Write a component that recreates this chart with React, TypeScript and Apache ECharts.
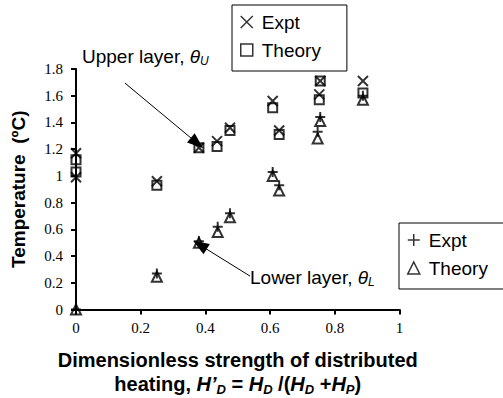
import React, { useEffect, useRef } from 'react';
import * as echarts from 'echarts';

// Upper layer (theta_U)
const xUpper = [0, 0, 0.25, 0.38, 0.436, 0.476, 0.608, 0.628, 0.752, 0.755, 0.887];
const upperExpt = [1.17, 0.99, 0.96, 1.21, 1.26, 1.36, 1.56, 1.34, 1.61, 1.71, 1.71];
const upperTheory = [1.12, 1.03, 0.93, 1.21, 1.22, 1.34, 1.51, 1.31, 1.57, 1.71, 1.62];

// Lower layer (theta_L)
const xLower = [0, 0.25, 0.38, 0.438, 0.476, 0.608, 0.628, 0.747, 0.755, 0.887];
const lowerExpt = [0, 0.27, 0.51, 0.62, 0.72, 1.03, 0.93, 1.33, 1.44, 1.6];
const lowerTheory = [0, 0.245, 0.5, 0.58, 0.69, 1.0, 0.89, 1.28, 1.41, 1.57];

// Annotation arrows (data coordinates: tail -> head)
const upperArrow = [[0.151, 1.695], [0.374, 1.246]];
const lowerArrow = [[0.538, 0.25], [0.383, 0.483]];

const CROSS = 'path://M0,0L10,10M10,0L0,10';
const PLUS = 'path://M5,0L5,10M0,5L10,5';
const SANS = 'Liberation Sans';
const SERIF = 'Liberation Serif';

const zip = (xs: number[], ys: number[]) => xs.map((x, i) => [x, ys[i]]);

export default function App() {
  const ref = useRef<HTMLDivElement>(null);
  useEffect(() => {
    if (!ref.current) return;
    const chart = echarts.init(ref.current, null, { renderer: 'svg' });
    const hollow = { color: 'transparent', borderColor: '#000', borderWidth: 2 };
    const legendItemStyle = { color: 'transparent', borderColor: '#000', borderWidth: 1.5 };
    const subRich = {
      n: { fontSize: 19, fontFamily: SANS, color: '#000', lineHeight: 21 },
      i: { fontSize: 19, fontFamily: SANS, fontStyle: 'italic', color: '#000', lineHeight: 21 },
      s: { fontSize: 12, fontFamily: SANS, fontStyle: 'italic', color: '#000', lineHeight: 12, verticalAlign: 'bottom' },
    };
    const arrowLine = (pts: number[][]) => ({
      silent: true,
      symbol: ['none', 'triangle'],
      symbolSize: [12, 16],
      label: { show: false },
      lineStyle: { color: '#000', width: 1, type: 'solid' },
      itemStyle: { color: '#000' },
      data: [[{ coord: pts[0] }, { coord: pts[1] }]],
    });
    const legendBase = {
      orient: 'vertical',
      selectedMode: false,
      backgroundColor: '#fff',
      borderColor: '#000',
      borderWidth: 1,
      padding: [7, 26, 11, 8],
      itemGap: 8,
      itemWidth: 12,
      itemHeight: 12,
      formatter: (name: string) => name.split(' ')[0],
      textStyle: { fontSize: 19, fontFamily: SANS, color: '#000', padding: [0, 0, 0, 4], lineHeight: 20 },
    };
    const option: any = {
      animation: false,
      backgroundColor: '#fff',
      grid: { left: 76, right: 103.5, top: 69, bottom: 88.5, containLabel: false, outerBoundsMode: 'none' },
      xAxis: {
        type: 'value',
        min: 0,
        max: 1,
        interval: 0.2,
        axisLine: { show: true, onZero: false, lineStyle: { color: '#000', width: 2 } },
        axisTick: { show: true, inside: false, length: 5, lineStyle: { color: '#000', width: 2 } },
        axisLabel: { color: '#000', fontSize: 15, fontFamily: SERIF, margin: 11 },
        splitLine: { show: false },
        name:
          '{b|Dimensionless strength of distributed}\n' +
          "{b|heating, }{bi|H’}{s|D}{b| = }{bi|H}{s|D}{b| /(}{bi|H}{s|D}{b| +}{bi|H}{s|P}{b|)}",
        nameLocation: 'middle',
        nameGap: 38,
        nameTextStyle: {
          align: 'center',
          rich: {
            b: { fontSize: 20, fontWeight: 'bold', fontFamily: SANS, color: '#000', lineHeight: 24 },
            bi: { fontSize: 20, fontWeight: 'bold', fontStyle: 'italic', fontFamily: SANS, color: '#000', lineHeight: 24 },
            s: { fontSize: 13, fontWeight: 'bold', fontStyle: 'italic', fontFamily: SANS, color: '#000', lineHeight: 13, verticalAlign: 'bottom' },
          },
        },
      },
      yAxis: {
        type: 'value',
        min: 0,
        max: 1.8,
        interval: 0.2,
        axisLine: { show: true, onZero: false, lineStyle: { color: '#000', width: 2 } },
        axisTick: { show: true, inside: false, length: 5, lineStyle: { color: '#000', width: 2 } },
        axisLabel: { color: '#000', fontSize: 15, fontFamily: SERIF, margin: 13 },
        splitLine: { show: false },
        name: 'Temperature  (ºC)',
        nameLocation: 'middle',
        nameRotate: 90,
        nameGap: 48,
        nameTextStyle: { fontSize: 19, fontWeight: 'bold', fontFamily: SANS, color: '#000' },
      },
      legend: [
        {
          ...legendBase,
          left: 232,
          top: 5,
          data: [
            { name: 'Expt U', icon: CROSS, itemStyle: legendItemStyle },
            { name: 'Theory U', icon: 'rect', itemStyle: legendItemStyle },
          ],
        },
        {
          ...legendBase,
          left: 399,
          top: 223,
          data: [
            { name: 'Expt L', icon: PLUS, itemStyle: legendItemStyle },
            { name: 'Theory L', icon: 'triangle', itemStyle: legendItemStyle },
          ],
        },
      ],
      graphic: [
        {
          type: 'text',
          left: 82,
          top: 47,
          style: { text: '{n|Upper layer, }{i|θ}{s|U}', rich: subRich },
        },
        {
          type: 'text',
          left: 250,
          top: 268,
          style: { text: '{n|Lower layer, }{i|θ}{s|L}', rich: subRich },
        },
      ],
      series: [
        {
          name: 'Expt U',
          type: 'scatter',
          symbol: CROSS,
          symbolSize: 10,
          itemStyle: hollow,
          data: zip(xUpper, upperExpt),
          markLine: arrowLine(upperArrow),
          clip: false,
        },
        {
          name: 'Theory U',
          type: 'scatter',
          symbol: 'rect',
          symbolSize: 9,
          itemStyle: hollow,
          data: zip(xUpper, upperTheory),
          clip: false,
        },
        {
          name: 'Expt L',
          type: 'scatter',
          symbol: PLUS,
          symbolSize: 10,
          itemStyle: hollow,
          data: zip(xLower, lowerExpt),
          markLine: arrowLine(lowerArrow),
          clip: false,
        },
        {
          name: 'Theory L',
          type: 'scatter',
          symbol: 'triangle',
          symbolSize: 10,
          itemStyle: hollow,
          data: zip(xLower, lowerTheory),
          clip: false,
        },
      ],
    };
    chart.setOption(option);
    return () => chart.dispose();
  }, []);
  return <div ref={ref} style={{ width: 503, height: 398, position: 'absolute', left: 0, top: 0 }} />;
}
